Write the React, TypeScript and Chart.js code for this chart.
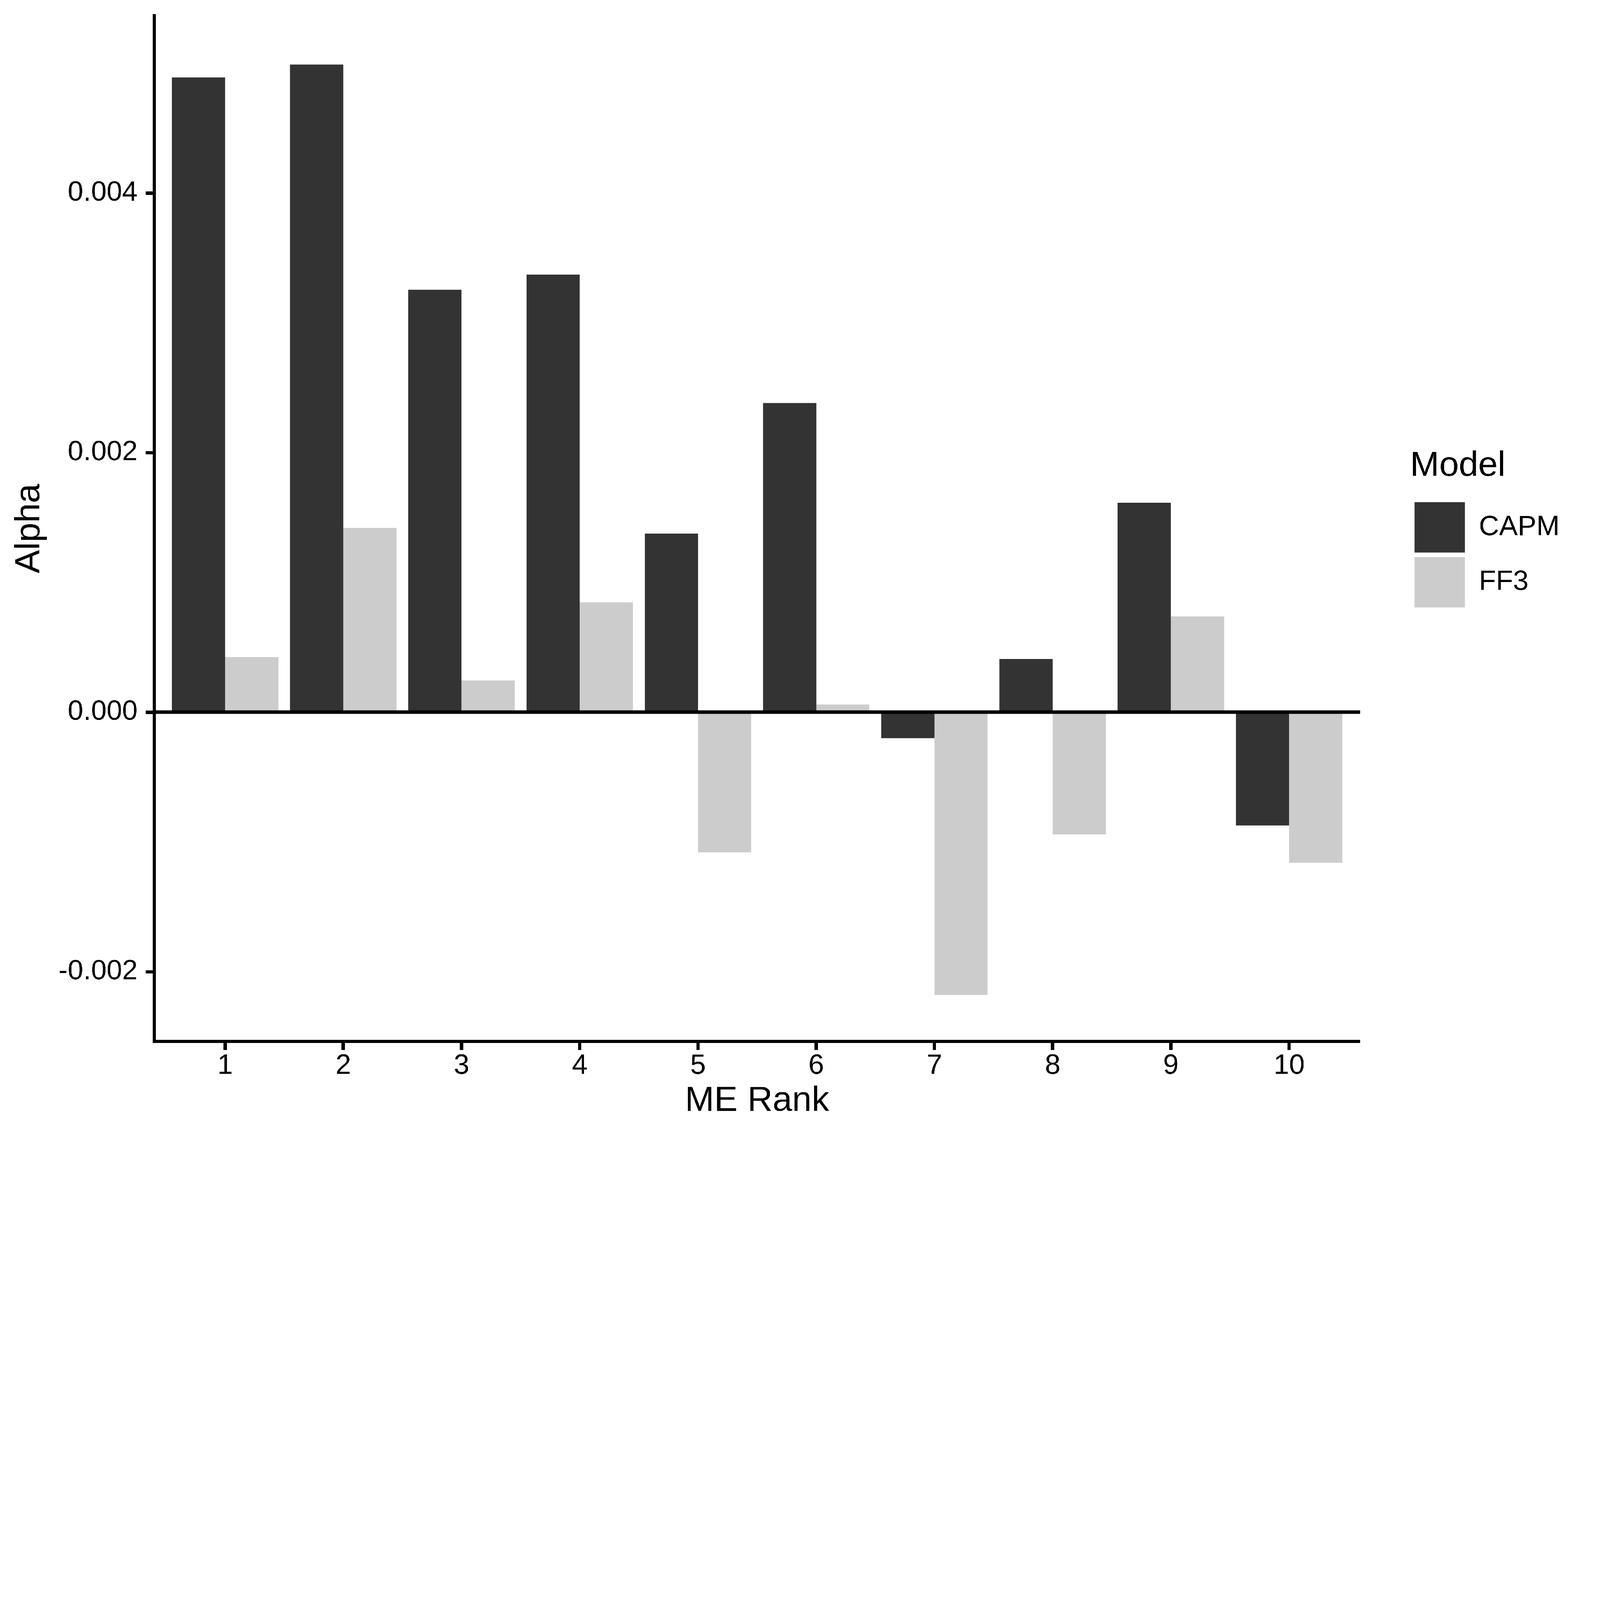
import { useEffect, useRef } from "react";
import { Chart, registerables, Plugin } from "chart.js";

Chart.register(...registerables);

// ME rank portfolios and the alphas
const ranks = [1, 2, 3, 4, 5, 6, 7, 8, 9, 10];
const capmAlpha = [0.00489, 0.00499, 0.003255, 0.00337, 0.001376, 0.002382, -0.000201, 0.000409, 0.001613, -0.000873];
const ff3Alpha = [0.000425, 0.00142, 0.000244, 0.000846, -0.00108, 0.00006, -0.00218, -0.000942, 0.000738, -0.00116];

const yTickValues = [-0.002, 0, 0.002, 0.004];
const yLimits = [-0.002536, 0.005366];
const xLimits = [0.4, 10.6];

const W = 6300;
const H = 4500;
const FONT = "'Liberation Sans', Arial, Helvetica, sans-serif";
const LINE = 13;

Chart.defaults.font.family = FONT;
Chart.defaults.color = "#000";

// horizontal reference line at alpha = 0
const zeroLine: Plugin<"bar"> = {
  id: "zeroLine",
  afterDatasetsDraw(chart) {
    const { ctx, chartArea, scales } = chart;
    const y = scales.y.getPixelForValue(0);
    ctx.save();
    ctx.strokeStyle = "#000";
    ctx.lineWidth = LINE;
    ctx.beginPath();
    ctx.moveTo(chartArea.left, y);
    ctx.lineTo(chartArea.right, y);
    ctx.stroke();
    ctx.restore();
  },
};

export default function App() {
  const canvasRef = useRef<HTMLCanvasElement>(null);
  const chartRef = useRef<Chart | null>(null);

  // the window may be smaller than the drawing, so shrink the whole figure to fit
  const fit = Math.min(1, window.innerWidth / W, window.innerHeight / H);

  useEffect(() => {
    if (!canvasRef.current) return;
    if (chartRef.current) {
      chartRef.current.destroy();
      chartRef.current = null;
    }

    const axisGrid = {
      display: true,
      drawOnChartArea: false,
      drawTicks: true,
      tickLength: 34,
      tickWidth: LINE,
      tickColor: "#000",
      offset: false,
    };
    const axisBorder = { display: true, color: "#000", width: LINE };

    chartRef.current = new Chart(canvasRef.current, {
      type: "bar",
      data: {
        datasets: [
          {
            label: "CAPM",
            data: ranks.map((r, i) => ({ x: r, y: capmAlpha[i] })),
            backgroundColor: "#333333",
            borderWidth: 0,
          },
          {
            label: "FF3",
            data: ranks.map((r, i) => ({ x: r, y: ff3Alpha[i] })),
            backgroundColor: "#CCCCCC",
            borderWidth: 0,
          },
        ],
      },
      options: {
        animation: false,
        responsive: true,
        maintainAspectRatio: false,
        devicePixelRatio: 1,
        events: [],
        layout: { padding: { top: 62, left: 34, right: 149, bottom: 81 } },
        datasets: { bar: { categoryPercentage: 0.9, barPercentage: 1.0 } },
        plugins: {
          tooltip: { enabled: false },
          legend: {
            position: "right",
            align: "start",
            title: {
              display: true,
              text: "Model",
              position: "start",
              color: "#000",
              font: { size: 138 },
              padding: { top: 1705, bottom: 27 },
            },
            labels: {
              boxWidth: 198,
              boxHeight: 198,
              padding: 18,
              color: "#000",
              font: { size: 110 },
            },
          },
        },
        scales: {
          x: {
            type: "linear",
            min: xLimits[0],
            max: xLimits[1],
            offset: false,
            afterBuildTicks: (scale) => {
              scale.ticks = ranks.map((v) => ({ value: v }));
            },
            afterFit: (scale) => {
              scale.height = 319;
            },
            grid: axisGrid,
            border: axisBorder,
            ticks: {
              color: "#000",
              font: { size: 110, lineHeight: 1 },
              padding: 9,
              maxRotation: 0,
              autoSkip: false,
              callback: (v) => String(v),
            },
            title: {
              display: true,
              text: "ME Rank",
              color: "#000",
              font: { size: 138 },
              padding: 0,
            },
          },
          y: {
            type: "linear",
            min: yLimits[0],
            max: yLimits[1],
            afterBuildTicks: (scale) => {
              scale.ticks = yTickValues.map((v) => ({ value: v }));
            },
            afterFit: (scale) => {
              scale.width = 573;
            },
            grid: axisGrid,
            border: axisBorder,
            ticks: {
              color: "#000",
              // small line height so the labels do not push the panel top down
              font: { size: 110, lineHeight: 0.5 },
              padding: 31,
              autoSkip: false,
              callback: (v) => Number(v).toFixed(3),
            },
            title: {
              display: true,
              text: "Alpha",
              color: "#000",
              font: { size: 138 },
              padding: { top: 0, bottom: 2 },
            },
          },
          // empty axis that keeps the legend away from the panel
          gap: {
            type: "linear",
            position: "right",
            display: true,
            grid: { display: false },
            border: { display: false },
            ticks: { display: false },
            afterFit: (scale) => {
              scale.width = 197;
            },
          },
        },
      },
      plugins: [zeroLine],
    });

    return () => {
      if (chartRef.current) {
        chartRef.current.destroy();
        chartRef.current = null;
      }
    };
  }, []);

  return (
    <div
      style={{
        position: "absolute",
        left: 0,
        top: 0,
        width: W,
        height: H,
        background: "#fff",
        transform: `scale(${fit})`,
        transformOrigin: "0 0",
      }}
    >
      <canvas ref={canvasRef}></canvas>
    </div>
  );
}
